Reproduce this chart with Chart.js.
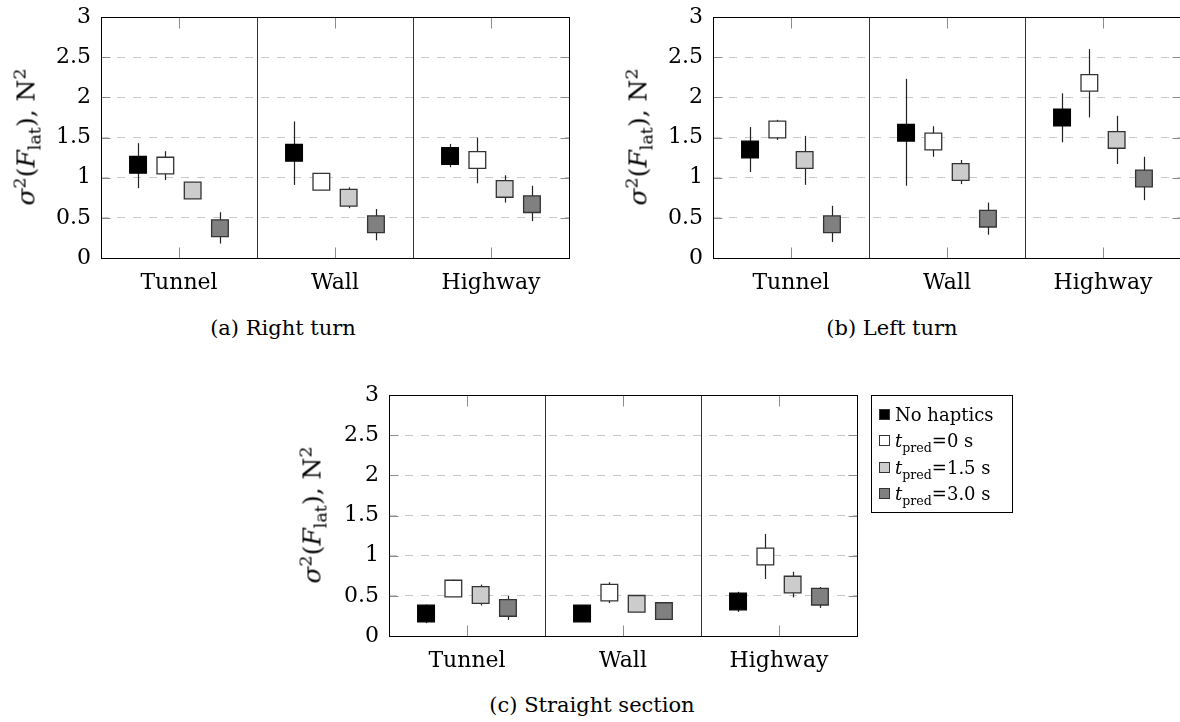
<!DOCTYPE html>
<html lang="en">
<head>
<meta charset="UTF-8">
<title>Lateral force variance</title>
<script src="https://cdn.jsdelivr.net/npm/chart.js"></script>
<style>
  body {
    margin: 0;
    width: 1180px;
    height: 722px;
    overflow: hidden;
    background: #fff;
    color: #000;
    font-family: "DejaVu Serif", serif;
    position: relative;
  }
  canvas { position: absolute; }
  .ytitle {
    position: absolute;
    font-size: 25px;
    line-height: 1;
    white-space: nowrap;
    transform: translate(-50%, -50%) rotate(-90deg);
  }
  .ytitle sup, .ytitle sub { font-size: 70%; line-height: 0; }
  .caption {
    position: absolute;
    font-size: 21px;
    line-height: 1;
    white-space: nowrap;
    transform: translateX(-50%);
  }
  #legend {
    position: absolute;
    left: 871px;
    top: 395px;
    width: 142px;
    height: 118px;
    border: 1px solid #000;
    box-sizing: border-box;
    padding-top: 5px;
    font-size: 18px;
  }
  .row { display: flex; align-items: center; height: 26.5px; padding-left: 7px; white-space: nowrap; }
  .row span.mk { width: 9px; height: 9px; border: 1px solid #333; margin-right: 5px; flex: none; }
  .row sub { font-size: 70%; line-height: 0; }
</style>
</head>
<body>

<canvas id="chartA" width="590" height="300" style="left:0px;top:0px"></canvas>
<canvas id="chartB" width="590" height="300" style="left:612px;top:0px"></canvas>
<canvas id="chartC" width="590" height="300" style="left:288px;top:378px"></canvas>

<div class="ytitle" style="left:26px;top:137px"><i>σ</i><sup>2</sup>(<i>F</i><sub>lat</sub>), N<sup>2</sup></div>
<div class="ytitle" style="left:638px;top:137px"><i>σ</i><sup>2</sup>(<i>F</i><sub>lat</sub>), N<sup>2</sup></div>
<div class="ytitle" style="left:312px;top:515px"><i>σ</i><sup>2</sup>(<i>F</i><sub>lat</sub>), N<sup>2</sup></div>

<div class="caption" style="left:283px;top:318px">(a) Right turn</div>
<div class="caption" style="left:892px;top:318px">(b) Left turn</div>
<div class="caption" style="left:592px;top:695px">(c) Straight section</div>

<div id="legend"></div>

<script>
// categories and series
const categories = ['Tunnel', 'Wall', 'Highway'];
const seriesLabels = ['No haptics', '<i>t</i><sub>pred</sub>=0 s', '<i>t</i><sub>pred</sub>=1.5 s', '<i>t</i><sub>pred</sub>=3.0 s'];
const seriesColors = ['#000000', '#ffffff', '#cccccc', '#808080'];
const yTicks = [0, 0.5, 1, 1.5, 2, 2.5, 3];

// (a) right turn: mean, lower and upper end of error bar, one row per series
const rightMean = [[1.16, 1.31, 1.27], [1.15, 0.95, 1.22], [0.84, 0.75, 0.86], [0.37, 0.42, 0.67]];
const rightLow  = [[0.87, 0.91, 1.13], [0.97, 0.89, 0.93], [0.80, 0.62, 0.69], [0.18, 0.22, 0.46]];
const rightHigh = [[1.43, 1.70, 1.42], [1.33, 1.01, 1.50], [0.88, 0.88, 1.03], [0.57, 0.61, 0.90]];

// (b) left turn
const leftMean = [[1.35, 1.56, 1.75], [1.60, 1.45, 2.18], [1.22, 1.07, 1.47], [0.42, 0.49, 0.99]];
const leftLow  = [[1.07, 0.90, 1.44], [1.47, 1.26, 1.75], [0.91, 0.92, 1.17], [0.20, 0.29, 0.72]];
const leftHigh = [[1.63, 2.23, 2.05], [1.72, 1.64, 2.60], [1.52, 1.22, 1.77], [0.65, 0.69, 1.26]];

// (c) straight section
const straightMean = [[0.28, 0.28, 0.43], [0.59, 0.54, 0.99], [0.51, 0.40, 0.64], [0.35, 0.31, 0.49]];
const straightLow  = [[0.16, 0.22, 0.30], [0.50, 0.41, 0.71], [0.38, 0.34, 0.48], [0.20, 0.26, 0.35]];
const straightHigh = [[0.39, 0.34, 0.55], [0.70, 0.67, 1.27], [0.64, 0.46, 0.80], [0.50, 0.36, 0.61]];

// horizontal shift of each series inside a group (in category units)
const seriesOffsets = [-0.2625, -0.0875, 0.0875, 0.2625];
const FONT = '"DejaVu Serif", serif';

// legend (html, because of the subscripts)
const legend = document.getElementById('legend');
seriesLabels.forEach((lab, i) => {
    const row = document.createElement('div');
    row.className = 'row';
    row.innerHTML = '<span class="mk" style="background:' + seriesColors[i] + '"></span><span>' + lab + '</span>';
    legend.appendChild(row);
});

// error bars under the markers
const errorBars = {
    id: 'errorBars',
    beforeDatasetsDraw(chart) {
        const ctx = chart.ctx;
        const y = chart.scales.y;
        ctx.save();
        ctx.strokeStyle = '#222';
        ctx.lineWidth = 1.2;
        chart.data.datasets.forEach((ds, di) => {
            const meta = chart.getDatasetMeta(di);
            meta.data.forEach((pt, i) => {
                const px = Math.round(pt.x) + 0.5;
                ctx.beginPath();
                ctx.moveTo(px, y.getPixelForValue(ds.errLow[i]));
                ctx.lineTo(px, y.getPixelForValue(ds.errHigh[i]));
                ctx.stroke();
            });
        });
        ctx.restore();
    }
};

// frame, group separators and inward ticks
const frame = {
    id: 'frame',
    afterDraw(chart) {
        const ctx = chart.ctx;
        const a = chart.chartArea;
        const x = chart.scales.x;
        const y = chart.scales.y;
        const l = Math.round(a.left) + 0.5, r = Math.round(a.right) + 0.5;
        const t = Math.round(a.top) + 0.5, b = Math.round(a.bottom) + 0.5;
        ctx.save();
        ctx.lineWidth = 1;
        // ticks at group centres, top and bottom
        ctx.strokeStyle = '#8c8c8c';
        categories.forEach((c, i) => {
            const px = Math.round(x.getPixelForValue(i)) + 0.5;
            ctx.beginPath();
            ctx.moveTo(px, t); ctx.lineTo(px, t + 11);
            ctx.moveTo(px, b); ctx.lineTo(px, b - 11);
            ctx.stroke();
        });
        yTicks.slice(1, -1).forEach(v => {
            const py = Math.round(y.getPixelForValue(v)) + 0.5;
            ctx.beginPath();
            ctx.moveTo(l, py); ctx.lineTo(l + 9, py);
            ctx.moveTo(r, py); ctx.lineTo(r - 9, py);
            ctx.stroke();
        });
        // separators between groups
        ctx.strokeStyle = '#333';
        for (let i = 0; i < categories.length - 1; i++) {
            const px = Math.round(x.getPixelForValue(i + 0.5)) + 0.5;
            ctx.beginPath();
            ctx.moveTo(px, t); ctx.lineTo(px, b);
            ctx.stroke();
        }
        ctx.strokeStyle = '#000';
        ctx.strokeRect(l, t, r - l, b - t);
        ctx.restore();
    }
};

function makePanel(id, means, lows, highs) {
    const datasets = means.map((vals, s) => ({
        label: seriesLabels[s],
        data: vals.map((v, i) => ({ x: i + seriesOffsets[s], y: v })),
        errLow: lows[s],
        errHigh: highs[s],
        showLine: false,
        pointStyle: 'rect',
        pointRadius: 11.8,
        pointBackgroundColor: seriesColors[s],
        pointBorderColor: s === 0 ? '#000' : '#333',
        pointBorderWidth: 1.3
    }));

    new Chart(document.getElementById(id), {
        type: 'scatter',
        data: { datasets: datasets },
        plugins: [errorBars, frame],
        options: {
            responsive: false,
            animation: false,
            events: [],
            layout: { padding: { top: 17, right: 21, bottom: 0, left: 0 } },
            plugins: { legend: { display: false }, tooltip: { enabled: false } },
            scales: {
                x: {
                    type: 'linear',
                    min: -0.5,
                    max: 2.5,
                    afterBuildTicks: s => { s.ticks = categories.map((c, i) => ({ value: i })); },
                    afterFit: s => { s.height = 42; },
                    grid: { display: false },
                    border: { display: false },
                    ticks: {
                        autoSkip: false,
                        maxRotation: 0,
                        padding: 4,
                        color: '#000',
                        font: { family: FONT, size: 22 },
                        callback: v => categories[v]
                    }
                },
                y: {
                    min: 0,
                    max: 3,
                    afterBuildTicks: s => { s.ticks = yTicks.map(v => ({ value: v })); },
                    afterFit: s => { s.width = 101; s.paddingTop = 0; s.paddingBottom = 0; },
                    grid: {
                        drawTicks: false,
                        lineWidth: 1,
                        color: c => (c.tick && (c.tick.value === 0 || c.tick.value === 3)) ? 'rgba(0,0,0,0)' : '#c8c8c8'
                    },
                    border: { display: false, dash: [8, 8] },
                    ticks: {
                        autoSkip: false,
                        padding: 10,
                        color: '#000',
                        font: { family: FONT, size: 22, lineHeight: 1 },
                        callback: v => String(v)
                    }
                }
            }
        }
    });
}

makePanel('chartA', rightMean, rightLow, rightHigh);
makePanel('chartB', leftMean, leftLow, leftHigh);
makePanel('chartC', straightMean, straightLow, straightHigh);
</script>
</body>
</html>
